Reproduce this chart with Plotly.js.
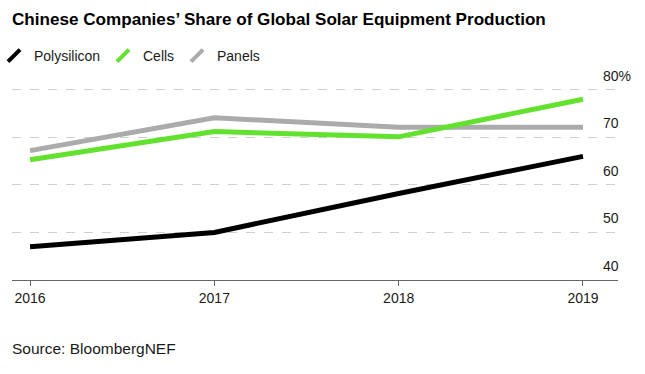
<!DOCTYPE html>
<html>
<head>
<meta charset="utf-8">
<script src="https://cdn.plot.ly/plotly-3.0.1.min.js"></script>
<style>html,body{margin:0;padding:0;background:#fff;}#chart{width:645px;height:374px;}</style>
</head>
<body>
<div id="chart"></div>
<script>
// Data (percent share)
const years = [2016, 2017, 2018, 2019];
const polysilicon = [47, 50, 58.2, 66];
const cells = [65.3, 71.2, 70.1, 78];
const panels = [67.2, 74.1, 72.1, 72.1];
const yTickVals = [40, 50, 60, 70, 80];
const yTickText = ['40', '50', '60', '70', '80%'];
const seriesNames = ['Polysilicon', 'Cells', 'Panels'];
const seriesColors = ['#000000', '#62e22f', '#ababab'];

const FONT = 'Liberation Sans, Arial, Helvetica, sans-serif';
const seriesData = [polysilicon, cells, panels];
const drawOrder = [0, 2, 1];
const legendIds = ['legend', 'legend2', 'legend3'];
const legendX = [0, 103, 177];
const legendIndent = [-6, 0, 0];

const traces = [];
drawOrder.forEach(i => {
  traces.push({
    x: years, y: seriesData[i], type: 'scatter', mode: 'lines',
    name: seriesNames[i], showlegend: false, hoverinfo: 'skip',
    line: {color: seriesColors[i], width: 5}
  });
});
// legend entries (slash-shaped symbols)
[0, 1, 2].forEach(i => {
  traces.push({
    x: [null], y: [null], type: 'scatter', mode: 'markers',
    name: seriesNames[i], showlegend: true, legend: legendIds[i],
    marker: {symbol: 'line-ne', size: 12, color: seriesColors[i],
             line: {color: seriesColors[i], width: 4}}
  });
});

const layout = {
  width: 645, height: 374,
  margin: {l: 12, r: 27, t: 84.5, b: 94, pad: 0},
  paper_bgcolor: '#ffffff', plot_bgcolor: '#ffffff',
  font: {family: FONT, size: 14, color: '#1a1a1a'},
  title: {
    text: 'Chinese Companies’ Share of Global Solar Equipment Production',
    xref: 'container', yref: 'container', x: 12 / 645, xanchor: 'left',
    y: 1 - 19 / 374, yanchor: 'middle',
    font: {family: FONT, size: 17.1, weight: 'bold', color: '#000'}
  },
  showlegend: true,
  xaxis: {
    range: [2015.902, 2019.19], tickvals: years, ticktext: years.map(String),
    showgrid: false, zeroline: false, showline: true, linecolor: '#666', linewidth: 1,
    ticks: 'outside', ticklen: 5, tickcolor: '#666', tickwidth: 1,
    tickfont: {family: FONT, size: 14, color: '#1a1a1a'}, fixedrange: true
  },
  yaxis: {
    range: [40, 81], side: 'right', tickvals: yTickVals, ticktext: yTickText,
    showgrid: true, gridcolor: '#d0d0d0', gridwidth: 1, griddash: 'dash',
    zeroline: false, showline: false, ticks: '',
    ticklabelstandoff: -16, ticklabelshift: -14,
    tickfont: {family: FONT, size: 14, color: '#1a1a1a'}, fixedrange: true
  },
  annotations: [{
    text: 'Source: BloombergNEF', xref: 'paper', yref: 'paper',
    x: 0, xanchor: 'left', xshift: -2, y: -(349 - 280) / (374 - 84.5 - 94), yanchor: 'middle',
    showarrow: false, font: {family: FONT, size: 15.5, color: '#1a1a1a'}
  }]
};
legendIds.forEach((id, i) => {
  layout[id] = {
    orientation: 'h', xref: 'container', yref: 'container',
    x: legendX[i] / 645, xanchor: 'left', y: 1 - 56 / 374, yanchor: 'middle',
    font: {family: FONT, size: 14, color: '#1a1a1a'},
    itemwidth: 30, indentation: legendIndent[i], bgcolor: 'rgba(0,0,0,0)'
  };
});

Plotly.newPlot('chart', traces, layout, {displayModeBar: false, staticPlot: true});
</script>
</body>
</html>
